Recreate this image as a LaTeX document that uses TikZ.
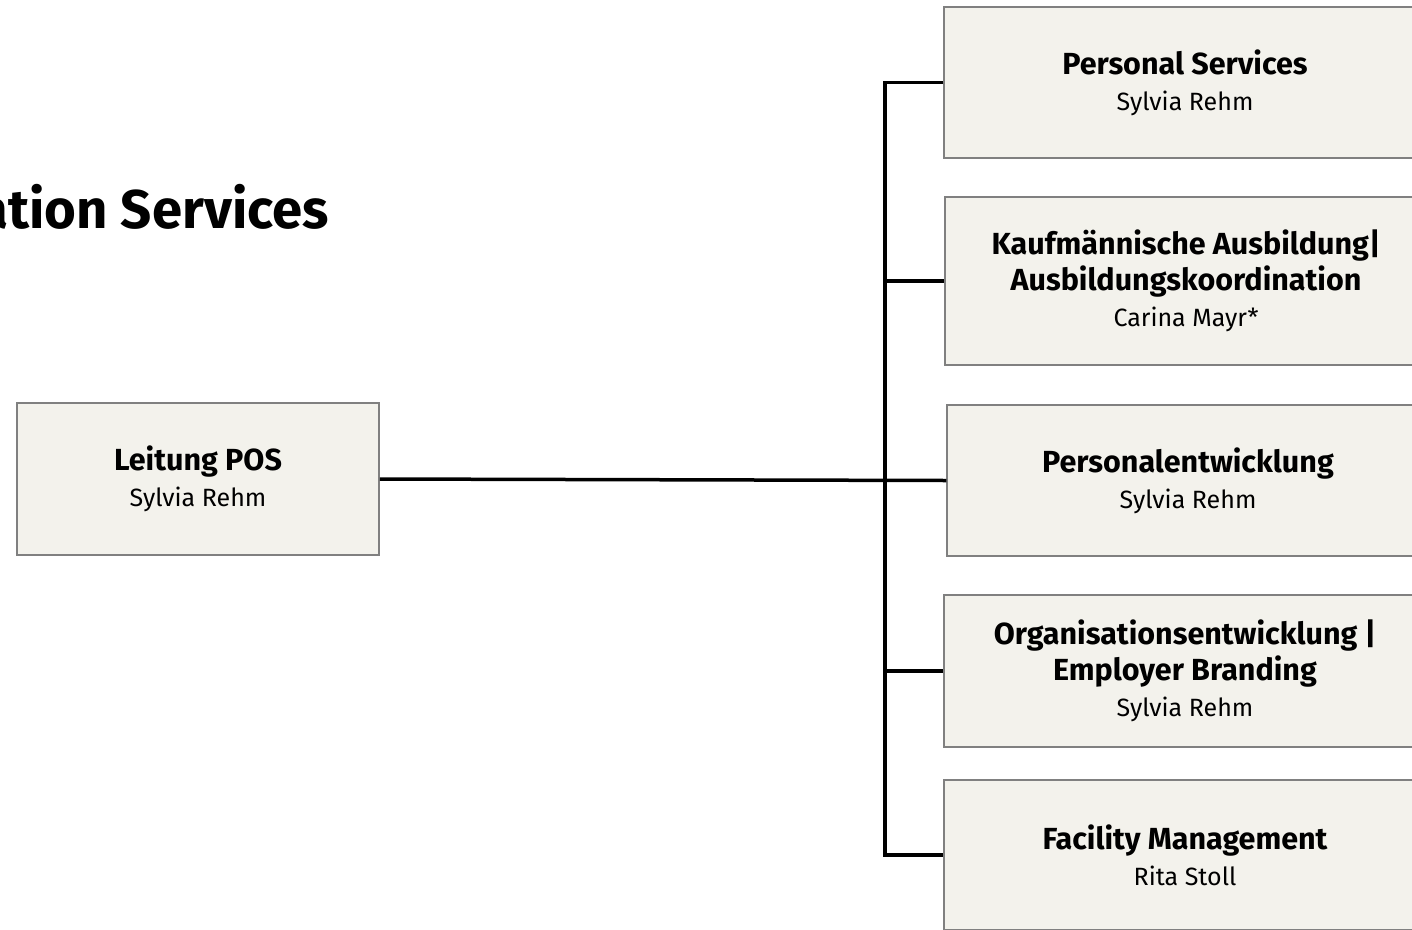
\documentclass[tikz,border=0pt]{standalone}
\usepackage{fontspec}
\setmainfont{Fira Sans}
\definecolor{boxfill}{HTML}{F3F2EC}
\definecolor{boxline}{HTML}{808080}
\tikzset{
    unitbox/.style={draw=boxline, line width=1.5pt, fill=boxfill, rectangle,
        align=center, inner sep=0pt, node font=\fontsize{30.5}{36}\selectfont},
    conn/.style={line width=3.5pt, black},
}
\newcommand{\unitname}[1]{{\bfseries #1}}
\newcommand{\headname}[1]{{\fontsize{25}{36}\selectfont #1}}
\begin{document}
\begin{tikzpicture}[x=1pt, y=-1pt]
                \useasboundingbox (0,0) rectangle (1412,929);
                \clip (0,0) rectangle (1412,929);
                \node[anchor=base east, inner sep=0pt] (title) at (329,228)
                {\fontsize{54.5}{66}\selectfont\bfseries ation Services};
                \node[unitbox, minimum width=362pt, minimum height=152pt] (leitung) at (198,479)
                {\unitname{Leitung POS}\\ \headname{Sylvia Rehm}};
                \node[unitbox, minimum width=482pt, minimum height=151pt] (ps) at (1185,82.5)
                {\unitname{Personal Services}\\ \headname{Sylvia Rehm}};
                \node[unitbox, minimum width=482pt, minimum height=168pt] (kaus) at (1186,281)
                {\unitname{Kaufmännische Ausbildung|}\\ \unitname{Ausbildungskoordination}\\ \headname{Carina Mayr*}};
                \node[unitbox, minimum width=482pt, minimum height=151pt] (pe) at (1188,480.5)
                {\unitname{Personalentwicklung}\\ \headname{Sylvia Rehm}};
                \node[unitbox, minimum width=482pt, minimum height=152pt] (oe) at (1185,671)
                {\unitname{Organisationsentwicklung |}\\ \unitname{Employer Branding}\\ \headname{Sylvia Rehm}};
                \node[unitbox, minimum width=482pt, minimum height=150pt] (fm) at (1185,855)
                {\unitname{Facility Management}\\ \headname{Rita Stoll}};
                \coordinate (bus) at (885,0);
                \draw[conn] (ps.west) -- (ps.west -| bus) -- (fm.west -| bus) -- (fm.west);
                \draw[conn] (kaus.west -| bus) -- (kaus.west);
                \draw[conn] (oe.west -| bus) -- (oe.west);
                \draw[conn] (leitung.east) -- (pe.west);
            \end{tikzpicture}
\end{document}
